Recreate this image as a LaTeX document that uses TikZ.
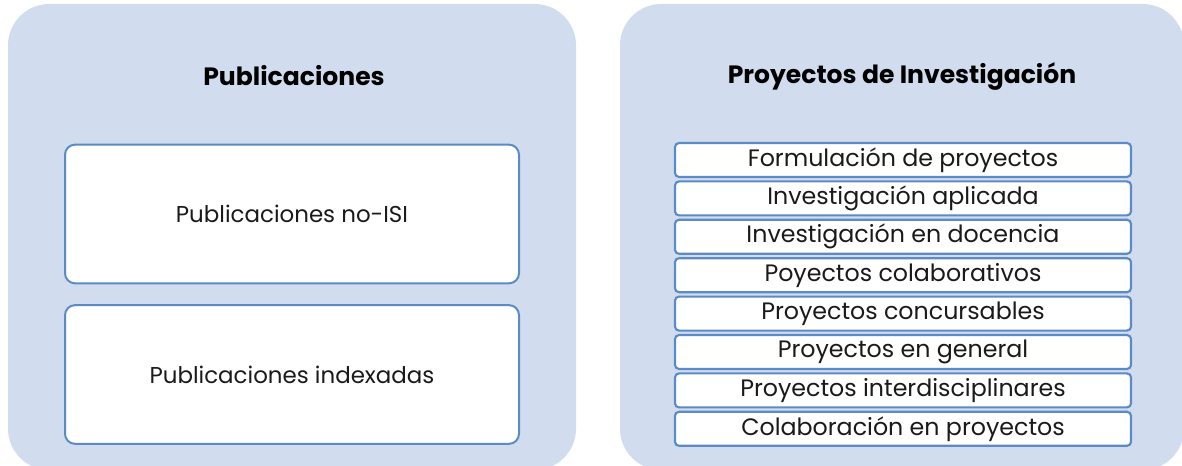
\documentclass[tikz,border=0pt]{standalone}
\usepackage{fontspec}
\setmainfont{Poppins}
\definecolor{panelfill}{HTML}{D1DDEE}
\definecolor{boxline}{HTML}{5B8BC7}
\definecolor{txt}{HTML}{1A1A1A}
\begin{document}
\begin{tikzpicture}[x=0.75pt,y=-0.75pt,
  panel/.style={fill=panelfill,draw=none,rounded corners=31pt,inner sep=0pt},
  bigbox/.style={draw=boxline,fill=white,line width=1.5pt,rounded corners=7.5pt,
    minimum width=340.5pt,minimum height=104pt,inner sep=0pt,
    font=\fontsize{17.2pt}{20pt}\selectfont,text=txt},
  listbox/.style={draw=boxline,fill=white,line width=1.6pt,rounded corners=3pt,
    minimum width=342pt,minimum height=25.5pt,inner sep=0pt,
    font=\fontsize{17.8pt}{20pt}\selectfont,text=txt},
  title/.style={font=\fontsize{18.8pt}{22pt}\selectfont\bfseries,text=black,inner sep=0pt}]
\useasboundingbox (0,0) rectangle (1182,466);
\clip (0,0) rectangle (1182,466);
\node[panel,minimum width=426pt,minimum height=349.5pt] (lp) at (292,237) {};
\node[panel,minimum width=423pt,minimum height=349.5pt] (rp) at (902,237) {};
\node[title] (lt) at (294,76) {Publicaciones};
\node[title] (rt) at (902,76) {Proyectos de Investigación};
\node[bigbox] (b1) at (292,214) {Publicaciones no-ISI};
\node[bigbox] (b2) at (292,374.5) {Publicaciones indexadas};
\node[listbox] (r1) at (903,160.0) {Formulación de proyectos};
\node[listbox] (r2) at (903,198.4) {Investigación aplicada};
\node[listbox] (r3) at (903,236.8) {Investigación en docencia};
\node[listbox] (r4) at (903,275.2) {Poyectos colaborativos};
\node[listbox] (r5) at (903,313.6) {Proyectos concursables};
\node[listbox] (r6) at (903,352.0) {Proyectos en general};
\node[listbox] (r7) at (903,390.4) {Proyectos interdisciplinares};
\node[listbox] (r8) at (903,428.8) {Colaboración en proyectos};
\end{tikzpicture}
\end{document}
